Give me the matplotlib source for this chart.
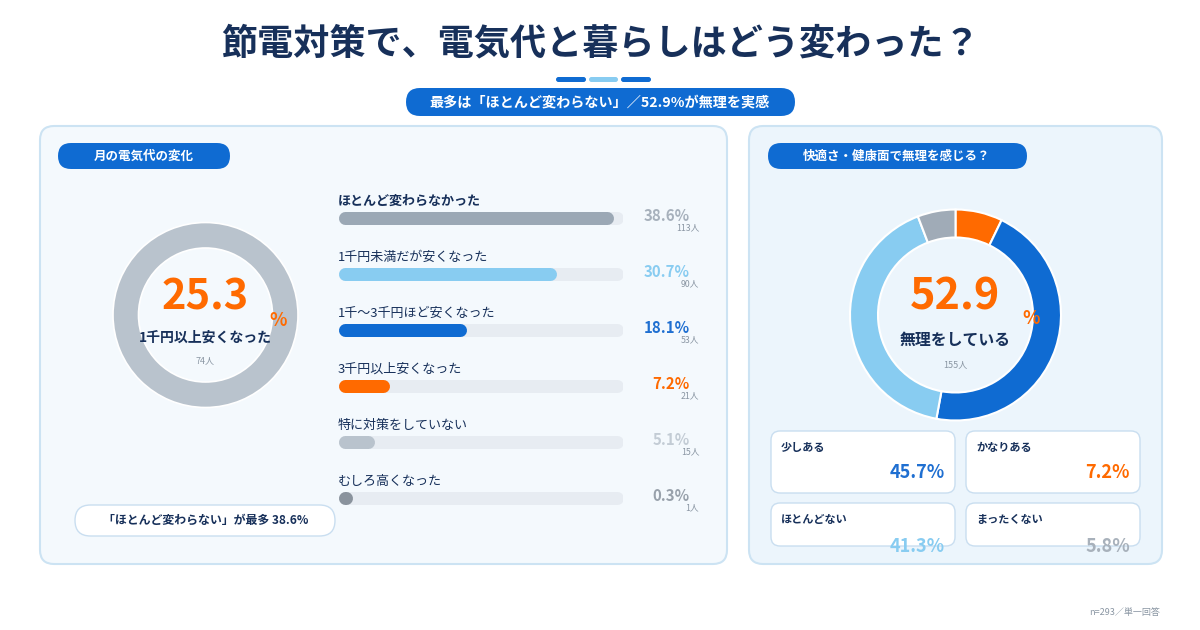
import matplotlib
matplotlib.use('Agg')
import matplotlib.pyplot as plt
from matplotlib.patches import FancyBboxPatch

plt.rcParams['font.family'] = ['Noto Sans CJK JP', 'DejaVu Sans']

# ---------------- data ----------------
title = "節電対策で、電気代と暮らしはどう変わった？"
subtitle = "最多は「ほとんど変わらない」／52.9%が無理を実感"
left_header = "月の電気代の変化"
right_header = "快適さ・健康面で無理を感じる？"

bill_labels = ["ほとんど変わらなかった", "1千円未満だが安くなった", "1千～3千円ほど安くなった",
               "3千円以上安くなった", "特に対策をしていない", "むしろ高くなった"]
bill_pct = [38.6, 30.7, 18.1, 7.2, 5.1, 0.3]
bill_count = [113, 90, 53, 21, 15, 1]

saved_value = [100]
saved_pct = 25.3
saved_count = 74
saved_label = "1千円以上安くなった"

strain_labels = ["かなりある", "少しある", "ほとんどない", "まったくない"]
strain_pct = [7.2, 45.7, 41.3, 5.8]
strain_total_pct = 52.9
strain_count = 155
strain_label = "無理をしている"
card_order = ["少しある", "かなりある", "ほとんどない", "まったくない"]

note_text = "「ほとんど変わらない」が最多 38.6%"
footer = "n=293／単一回答"

# ---------------- style ----------------
NAVY = "#17305a"
BLUE = "#0f6bd2"
LBLUE = "#88ccf1"
ORANGE = "#ff6a00"
GRAY = "#9ba8b5"
LGRAY = "#b9c3cd"
DGRAY = "#8a939d"
TRACK = "#e7ecf2"
SUBTXT = "#8a96a3"

bill_colors = [GRAY, LBLUE, BLUE, ORANGE, LGRAY, DGRAY]
bill_txt_colors = ["#a7b1bc", LBLUE, "#1f6fd1", ORANGE, "#c3ccd5", "#98a1ab"]
strain_colors = {"かなりある": ORANGE, "少しある": BLUE, "ほとんどない": LBLUE, "まったくない": "#a0abb7"}
strain_txt_colors = {"かなりある": ORANGE, "少しある": "#1f6fd1", "ほとんどない": LBLUE, "まったくない": "#a8b1bb"}

W, H = 1200, 630
fig = plt.figure(figsize=(W / 100, H / 100), dpi=100)
fig.patch.set_facecolor("white")

# background layer (pixel coordinates)
ax = fig.add_axes([0, 0, 1, 1], zorder=0)
ax.set_xlim(0, W)
ax.set_ylim(H, 0)
ax.axis("off")


def rbox(a, x0, y0, x1, y1, r, fc, ec="none", lw=1.0, z=1):
    p = FancyBboxPatch((x0, y0), x1 - x0, y1 - y0,
                       boxstyle=f"round,pad=0,rounding_size={r}",
                       fc=fc, ec=ec, lw=lw, zorder=z)
    a.add_patch(p)


# title
ax.text(600, 44, title, ha="center", va="center", fontsize=26, fontweight="bold", color=NAVY)
# decorative segments
for (a, b), c in zip([(556, 586), (589, 618), (621, 651)], [BLUE, LBLUE, BLUE]):
    rbox(ax, a, 77, b, 82, 2.5, c)
# subtitle pill
rbox(ax, 406, 88, 795, 116, 14, BLUE)
ax.text(600, 102, subtitle, ha="center", va="center", fontsize=10.2, fontweight="bold", color="white")

# panels
rbox(ax, 40, 126, 727, 564, 14, "#f4f9fd", ec="#cce3f3", lw=1.5)
rbox(ax, 749, 126, 1162, 564, 14, "#ecf5fc", ec="#cce3f3", lw=1.5)

# headers
rbox(ax, 58, 143, 230, 169, 13, BLUE)
ax.text(144, 156, left_header, ha="center", va="center", fontsize=9, fontweight="bold", color="white")
rbox(ax, 768, 143, 1027, 169, 13, BLUE)
ax.text(897, 156, right_header, ha="center", va="center", fontsize=9, fontweight="bold", color="white")

# ---------------- left donut ----------------
cx, cy, R = 205.5, 315, 92.5
axd = fig.add_axes([(cx - R) / W, 1 - (cy + R) / H, 2 * R / W, 2 * R / H], zorder=1)
axd.pie(saved_value, colors=[LGRAY], startangle=90, counterclock=False,
        wedgeprops=dict(width=25.5 / R, edgecolor="white", linewidth=1.2))
axd.set_xlim(-1, 1); axd.set_ylim(-1, 1)
axd.axis("off")

# note pill
rbox(ax, 75, 505, 335, 536, 15.5, "white", ec="#c9def0", lw=1.0)
ax.text(206, 520, note_text, ha="center", va="center", fontsize=8.6, fontweight="bold", color=NAVY)

# ---------------- bars ----------------
n = len(bill_pct)
axb = fig.add_axes([338 / W, 1 - 526 / H, 285 / W, 336 / H], zorder=1)
axb.set_xlim(0, 40)
axb.set_ylim(n - 0.5, -0.5)
axb.axis("off")
axb.patch.set_alpha(0)
lw_pt = 13 * 0.72
cap = 6.5 / 7.125
for i, (lab, v, c, tc, cnt) in enumerate(zip(bill_labels, bill_pct, bill_colors, bill_txt_colors, bill_count)):
    axb.plot([cap, 40 - cap], [i, i], color=TRACK, lw=lw_pt, solid_capstyle="round", zorder=1)
    axb.plot([cap, max(v - cap, cap + 0.2)], [i, i], color=c, lw=lw_pt, solid_capstyle="round", zorder=2)
    axb.text(0, i - 0.30, lab, ha="left", va="center", fontsize=9.4,
             fontweight="bold" if i == 0 else "normal", color=NAVY, clip_on=False)
    axb.text(49.4, i - 0.04, f"{v}%", ha="right", va="center", fontsize=10.8,
             fontweight="bold", color=tc, clip_on=False)
    axb.text(50.7, i + 0.18, f"{cnt}人", ha="right", va="center", fontsize=6.3,
             color=SUBTXT, clip_on=False)

# ---------------- right donut ----------------
cx2, cy2, R2 = 955.5, 315, 105.5
axd2 = fig.add_axes([(cx2 - R2) / W, 1 - (cy2 + R2) / H, 2 * R2 / W, 2 * R2 / H], zorder=1)
axd2.pie(strain_pct, colors=[strain_colors[k] for k in strain_labels], startangle=90, counterclock=False,
         wedgeprops=dict(width=28 / R2, edgecolor="white", linewidth=1.5))
axd2.set_xlim(-1, 1); axd2.set_ylim(-1, 1)
axd2.axis("off")

# ---------------- overlay layer for texts over the donuts ----------------
axt = fig.add_axes([0, 0, 1, 1], zorder=2)
axt.set_xlim(0, W)
axt.set_ylim(H, 0)
axt.axis("off")
axt.patch.set_alpha(0)

axt.text(cx, 298, f"{saved_pct}", ha="center", va="center", fontsize=30, fontweight="bold", color=ORANGE)
axt.text(278, 320, "%", ha="center", va="center", fontsize=13, fontweight="bold", color=ORANGE)
axt.text(cx, 338, saved_label, ha="center", va="center", fontsize=10, fontweight="bold", color=NAVY)
axt.text(cx, 361, f"{saved_count}人", ha="center", va="center", fontsize=6.5, color=SUBTXT)

axt.text(cx2, 297, f"{strain_total_pct}", ha="center", va="center", fontsize=31, fontweight="bold", color=ORANGE)
axt.text(1031, 319, "%", ha="center", va="center", fontsize=13, fontweight="bold", color=ORANGE)
axt.text(cx2, 340, strain_label, ha="center", va="center", fontsize=11.4, fontweight="bold", color=NAVY)
axt.text(cx2, 365, f"{strain_count}人", ha="center", va="center", fontsize=6.5, color=SUBTXT)

# cards
card_boxes = [(771, 431, 955, 493), (966, 431, 1140, 493), (771, 503, 955, 546), (966, 503, 1140, 546)]
pct_map = dict(zip(strain_labels, strain_pct))
for name, (x0, y0, x1, y1) in zip(card_order, card_boxes):
    rbox(axt, x0, y0, x1, y1, 9, "white", ec="#c9def0", lw=1.0)
    axt.text(x0 + 10, y0 + 16, name, ha="left", va="center", fontsize=8, fontweight="bold", color=NAVY)
    ty = y0 + 42 if y1 - y0 > 50 else y1
    axt.text(x1 - 10, ty, f"{pct_map[name]}%", ha="right", va="center", fontsize=13,
             fontweight="bold", color=strain_txt_colors[name], zorder=5)

# footer
axt.text(1160, 613, footer, ha="right", va="center", fontsize=6.5, color=SUBTXT)

fig.savefig("out.png", dpi=100, facecolor="white")
